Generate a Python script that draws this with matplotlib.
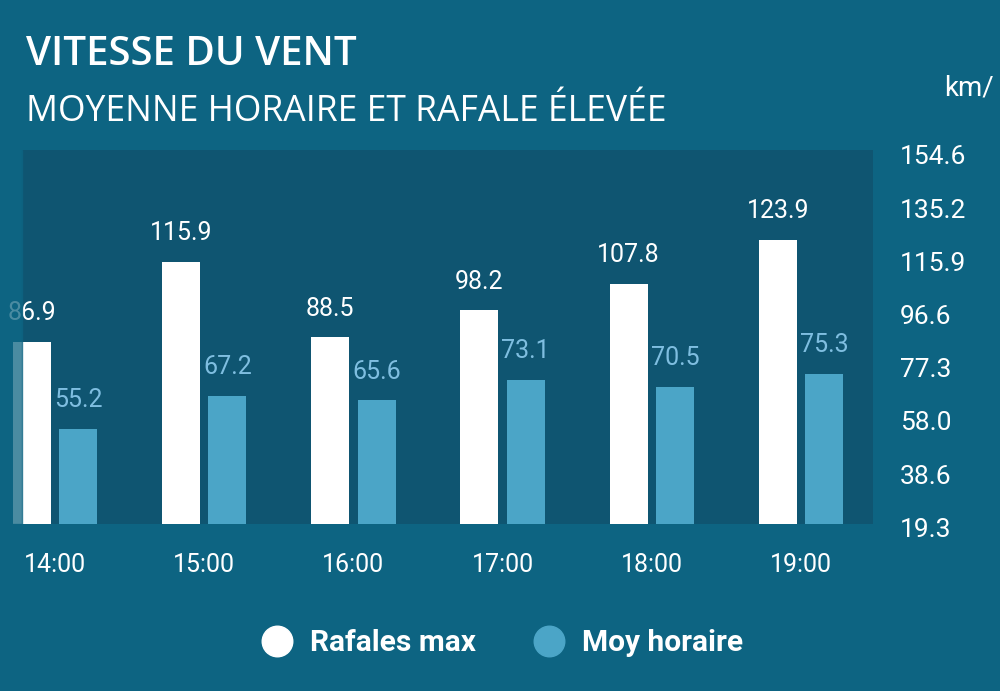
import matplotlib.pyplot as plt
from matplotlib.lines import Line2D
from matplotlib.transforms import Bbox, TransformedBbox
import numpy as np

# données
heures = ['14:00', '15:00', '16:00', '17:00', '18:00', '19:00']
rafales = [86.9, 115.9, 88.5, 98.2, 107.8, 123.9]
moyenne = [55.2, 67.2, 65.6, 73.1, 70.5, 75.3]
graduations = [19.3, 38.6, 58.0, 77.3, 96.6, 115.9, 135.2, 154.6]

fond = '#0d6482'
panneau = '#0f5571'
blanc = '#ffffff'
bleu = '#4ba5c7'
bleu_txt = '#7fbee0'

plt.rcParams['font.family'] = ['Roboto', 'DejaVu Sans']

fig = plt.figure(figsize=(10, 6.91), dpi=100)
fig.patch.set_facecolor(fond)
# l'axe commence au bord gauche, le panneau sombre est dessiné à part
ax = fig.add_axes([0.0, 0.2417, 0.873, 0.5413])
ax.set_facecolor('none')
for s in ax.spines.values():
    s.set_visible(False)

x = np.arange(len(heures))
larg = 0.255
dx = 0.155
xmin, xmax = -0.369, 5.483
gauche = -0.221

ax.set_xlim(xmin, xmax)
ax.set_ylim(20.75, 156.4)

ax.axvspan(gauche, xmax, color=panneau, zorder=0)
ax.bar(x - dx, rafales, larg, color=blanc, zorder=2)
ax.bar(x + dx, moyenne, larg, color=bleu, zorder=2)

for i in range(len(heures)):
    ax.text(x[i] - dx, rafales[i] + 6, f'{rafales[i]:.1f}', ha='center', va='bottom',
            color=blanc, fontsize=18, zorder=3)
    ax.text(x[i] + dx, moyenne[i] + 6, f'{moyenne[i]:.1f}', ha='center', va='bottom',
            color=bleu_txt, fontsize=18, zorder=3)

# bord gauche estompé
ax.axvspan(xmin, gauche, color=fond, alpha=0.75, zorder=10)

ax.set_xticks(x)
ax.set_xticklabels(heures, color=blanc, fontsize=18)
ax.tick_params(axis='x', length=0, pad=21)
ax.set_yticks([])

trans = ax.get_yaxis_transform()
for g in graduations:
    ax.text(1.031, g - 0.8, f'{g:.1f}', transform=trans, ha='left', va='center',
            color=blanc, fontsize=19, clip_on=False)

# unité coupée au bord droit comme dans l'original
unite = fig.text(0.944, 0.872, 'km/h', color=blanc, fontsize=20, va='center', ha='left')
unite.set_clip_box(TransformedBbox(Bbox([[0, 0], [0.993, 1]]), fig.transFigure))
unite.set_clip_on(True)

fig.text(0.026, 0.921, 'VITESSE DU VENT', color=blanc, fontsize=29,
         fontweight='semibold', family='Open Sans', va='center')
fig.text(0.026, 0.8375, 'MOYENNE HORAIRE ET RAFALE ÉLEVÉE', color=blanc, fontsize=25.6,
         family='Open Sans', va='center')

poignees = [Line2D([], [], marker='o', linestyle='', markersize=22, color=blanc),
            Line2D([], [], marker='o', linestyle='', markersize=22, color=bleu)]
leg = fig.legend(poignees, ['Rafales max', 'Moy horaire'], loc='center',
                 bbox_to_anchor=(0.501, 0.069), ncol=2, frameon=False,
                 prop={'size': 21.5, 'weight': 'bold'}, handletextpad=0.5,
                 columnspacing=1.85, handlelength=1.2)
for t in leg.get_texts():
    t.set_color(blanc)

fig.savefig('out.png', dpi=100, facecolor=fond)
